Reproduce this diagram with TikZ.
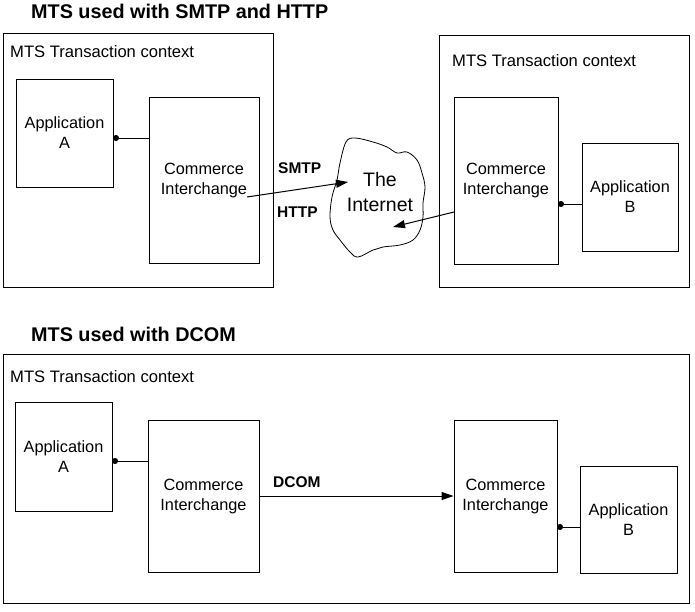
\documentclass[tikz,border=0pt]{standalone}
\usepackage{fontspec}
\setmainfont{Liberation Sans}
\usetikzlibrary{arrows.meta}
\begin{document}
\begin{tikzpicture}[x=1pt,y=-1pt,
  frame/.style={draw, line width=1pt},
  box/.style={draw, line width=1pt, align=center, inner sep=0pt, font=\fontsize{16.3}{20}\selectfont},
  ctx/.style={anchor=west, inner sep=0pt, font=\fontsize{16.6}{20}\selectfont},
  title/.style={anchor=west, inner sep=0pt, font=\fontsize{19.8}{24}\selectfont\bfseries},
  lbl/.style={anchor=west, inner sep=0pt, font=\fontsize{15.5}{19}\selectfont\bfseries},
  link/.style={line width=1pt, {Circle[length=6pt]}-},
  arr/.style={line width=1pt, -{Triangle[length=12pt,width=8pt]}},
]
\useasboundingbox (0,0) rectangle (695,611);

% ---------- top section ----------
\node[title] (t1) at (31,11) {MTS used with SMTP and HTTP};

\draw[frame] (3,33) rectangle (273,287);
\node[ctx] (c1) at (10,52) {MTS Transaction context};
\node[box, minimum width=97pt, minimum height=108pt] (appA) at (64.5,133) {Application\\A};
\node[box, minimum width=110pt, minimum height=166pt] (ci1) at (204,180) {Commerce\\Interchange};
\coordinate (d1) at (113,138);
\draw[link] (d1) -- (d1 -| ci1.west);

\draw[frame] (439,35) rectangle (689,287);
\node[ctx] (c2) at (452,61) {MTS Transaction context};
\node[box, minimum width=104pt, minimum height=167pt] (ci2) at (506,180.5) {Commerce\\Interchange};
\node[box, minimum width=96pt, minimum height=108pt] (appB) at (630,197) {Application\\B};
\coordinate (d2) at (558,204);
\draw[link] (d2) -- (d2 -| appB.west);

% cloud
\draw[line width=0.8pt] plot[smooth cycle, tension=0.6] coordinates {
  (346,142) (355,138) (373,142) (387,147) (397,153) (407,152) (417,160)
  (422,173) (425,187) (423,203) (423,217) (420,230) (413,240) (400,245)
  (383,247) (373,250) (358,257) (350,252) (340,240) (333,230) (330,217)
  (332,197) (337,180) (340,163)};
\node[align=center, inner sep=0pt, font=\fontsize{19.5}{25}\selectfont] (net) at (380,192.5) {The\\Internet};

\node[lbl] (smtp) at (278,168) {SMTP};
\node[lbl] (http) at (277,212) {HTTP};
\coordinate (s0) at (247,197);
\coordinate (s1) at (348,182);
\draw[arr] (s0) -- (s1);
\coordinate (h0) at (454,212);
\coordinate (h1) at (393,227);
\draw[arr] (h0) -- (h1);

% ---------- bottom section ----------
\node[title] (t2) at (31,334) {MTS used with DCOM};

\draw[frame] (3,354) rectangle (689,603);
\node[ctx] (c3) at (10,377) {MTS Transaction context};
\node[box, minimum width=97pt, minimum height=109pt] (appA2) at (63.5,456.5) {Application\\A};
\node[box, minimum width=111pt, minimum height=152pt] (ci3) at (203.5,496) {Commerce\\Interchange};
\coordinate (d3) at (112,461);
\draw[link] (d3) -- (d3 -| ci3.west);

\node[box, minimum width=103pt, minimum height=152pt] (ci4) at (505.5,496) {Commerce\\Interchange};
\node[box, minimum width=97pt, minimum height=107pt] (appB2) at (628.5,519.5) {Application\\B};
\coordinate (d4) at (557,527);
\draw[link] (d4) -- (d4 -| appB2.west);

\node[lbl] (dcom) at (273,482) {DCOM};
\draw[arr] (ci3.east) -- (ci4.west);

\end{tikzpicture}
\end{document}
